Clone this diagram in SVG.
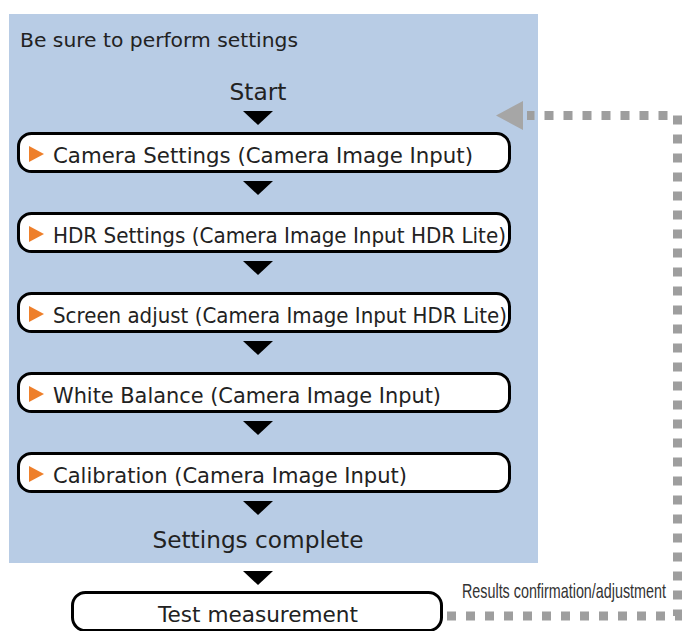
<svg xmlns="http://www.w3.org/2000/svg" width="682" height="631" viewBox="0 0 682 631">
  <style>
    .t { font-family: "DejaVu Sans", "Liberation Sans", sans-serif; fill: #222; }
    .node { fill: #ffffff; stroke: #000000; stroke-width: 3; }
    .mark { fill: #EE7F2A; }
    .arr { fill: #000000; }
    .loop { fill: none; stroke: #9E9E9E; stroke-width: 9; stroke-dasharray: 9 10; }
  </style>
  <defs>
    <polygon id="down" points="243,0 273,0 258,14" class="arr"/>
    <polygon id="om" points="29,0 29,16 44,8" class="mark"/>
  </defs>

  <g id="settings-area">
    <rect x="9" y="14" width="529" height="549" fill="#B8CCE5"/>
    <text class="t" x="20" y="47" font-size="20" textLength="278" lengthAdjust="spacingAndGlyphs">Be sure to perform settings</text>
  </g>

  <g id="start">
    <text class="t" x="258" y="100" font-size="23" text-anchor="middle" textLength="57" lengthAdjust="spacingAndGlyphs">Start</text>
  </g>

  <g id="node-camera-settings">
    <rect class="node" x="18.5" y="133.5" width="491" height="38" rx="13"/>
    <use href="#om" y="146"/>
    <text class="t" x="53" y="163" font-size="21" textLength="420" lengthAdjust="spacingAndGlyphs">Camera Settings (Camera Image Input)</text>
  </g>

  <g id="node-hdr-settings">
    <rect class="node" x="18.5" y="213.5" width="491" height="38" rx="13"/>
    <use href="#om" y="226"/>
    <text class="t" x="53" y="243" font-size="21" textLength="453" lengthAdjust="spacingAndGlyphs">HDR Settings (Camera Image Input HDR Lite)</text>
  </g>

  <g id="node-screen-adjust">
    <rect class="node" x="18.5" y="293.5" width="491" height="38" rx="13"/>
    <use href="#om" y="306"/>
    <text class="t" x="53" y="323" font-size="21" textLength="454" lengthAdjust="spacingAndGlyphs">Screen adjust (Camera Image Input HDR Lite)</text>
  </g>

  <g id="node-white-balance">
    <rect class="node" x="18.5" y="373.5" width="491" height="38" rx="13"/>
    <use href="#om" y="386"/>
    <text class="t" x="53" y="403" font-size="21" textLength="388" lengthAdjust="spacingAndGlyphs">White Balance (Camera Image Input)</text>
  </g>

  <g id="node-calibration">
    <rect class="node" x="18.5" y="453.5" width="491" height="38" rx="13"/>
    <use href="#om" y="466"/>
    <text class="t" x="53" y="483" font-size="21" textLength="354" lengthAdjust="spacingAndGlyphs">Calibration (Camera Image Input)</text>
  </g>

  <g id="settings-complete">
    <text class="t" x="258" y="548" font-size="23" text-anchor="middle" textLength="211" lengthAdjust="spacingAndGlyphs">Settings complete</text>
  </g>

  <g id="node-test-measurement">
    <rect class="node" x="72.5" y="592.5" width="369" height="38" rx="13"/>
    <text class="t" x="258" y="622" font-size="21" text-anchor="middle" textLength="200" lengthAdjust="spacingAndGlyphs">Test measurement</text>
  </g>

  <g id="connectors">
    <use href="#down" y="111"/>
    <use href="#down" y="181"/>
    <use href="#down" y="261"/>
    <use href="#down" y="341"/>
    <use href="#down" y="421"/>
    <use href="#down" y="501"/>
    <use href="#down" y="571"/>
    <path class="loop" d="M447,616 H677.5 V115.5 H527"/>
    <polygon points="496,115.5 523,101 523,130" fill="#A6A6A6"/>
    <text transform="translate(462,598) scale(0.717,1)" x="0" y="0" font-family="'Liberation Sans', Arial, sans-serif" font-size="20" fill="#333">Results confirmation/adjustment</text>
  </g>
</svg>
